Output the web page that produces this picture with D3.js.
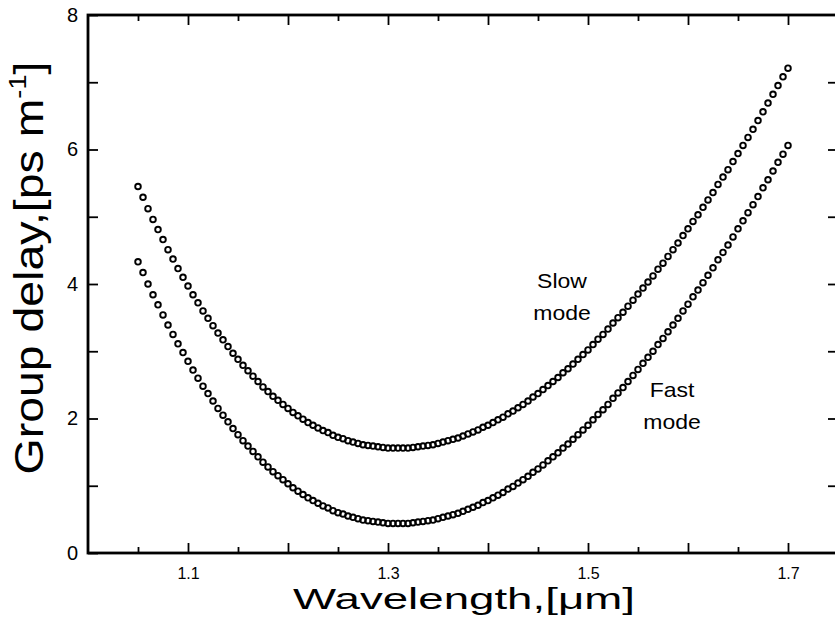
<!DOCTYPE html>
<html>
<head>
<meta charset="utf-8">
<script src="https://cdn.jsdelivr.net/npm/d3@7"></script>
<style>
  body { margin: 0; background: #fff; }
  svg { display: block; font-family: "Liberation Sans", Arial, sans-serif; }
</style>
</head>
<body>
<svg width="835" height="632"></svg>
<script>
// wavelength grid of the measured points, um
var wavelength = [
  1.050, 1.055, 1.060, 1.065, 1.070, 1.075, 1.080, 1.085, 1.090, 1.095,
  1.100, 1.105, 1.110, 1.115, 1.120, 1.125, 1.130, 1.135, 1.140, 1.145,
  1.150, 1.155, 1.160, 1.165, 1.170, 1.175, 1.180, 1.185, 1.190, 1.195,
  1.200, 1.205, 1.210, 1.215, 1.220, 1.225, 1.230, 1.235, 1.240, 1.245,
  1.250, 1.255, 1.260, 1.265, 1.270, 1.275, 1.280, 1.285, 1.290, 1.295,
  1.300, 1.305, 1.310, 1.315, 1.320, 1.325, 1.330, 1.335, 1.340, 1.345,
  1.350, 1.355, 1.360, 1.365, 1.370, 1.375, 1.380, 1.385, 1.390, 1.395,
  1.400, 1.405, 1.410, 1.415, 1.420, 1.425, 1.430, 1.435, 1.440, 1.445,
  1.450, 1.455, 1.460, 1.465, 1.470, 1.475, 1.480, 1.485, 1.490, 1.495,
  1.500, 1.505, 1.510, 1.515, 1.520, 1.525, 1.530, 1.535, 1.540, 1.545,
  1.550, 1.555, 1.560, 1.565, 1.570, 1.575, 1.580, 1.585, 1.590, 1.595,
  1.600, 1.605, 1.610, 1.615, 1.620, 1.625, 1.630, 1.635, 1.640, 1.645,
  1.650, 1.655, 1.660, 1.665, 1.670, 1.675, 1.680, 1.685, 1.690, 1.695,
  1.700
];

// group delay, ps/m
var slowMode = [
  5.45, 5.29, 5.12, 4.96, 4.81, 4.66, 4.51, 4.37, 4.23, 4.10,
  3.97, 3.84, 3.72, 3.60, 3.49, 3.38, 3.27, 3.17, 3.07, 2.97,
  2.88, 2.79, 2.71, 2.63, 2.55, 2.47, 2.40, 2.33, 2.27, 2.21,
  2.15, 2.09, 2.04, 1.99, 1.94, 1.90, 1.86, 1.82, 1.79, 1.75,
  1.72, 1.70, 1.67, 1.65, 1.63, 1.61, 1.60, 1.59, 1.58, 1.57,
  1.56, 1.56, 1.56, 1.56, 1.56, 1.57, 1.58, 1.59, 1.60, 1.61,
  1.63, 1.65, 1.67, 1.69, 1.71, 1.74, 1.77, 1.80, 1.83, 1.87,
  1.90, 1.94, 1.98, 2.02, 2.07, 2.11, 2.16, 2.21, 2.26, 2.32,
  2.37, 2.43, 2.49, 2.55, 2.61, 2.68, 2.74, 2.81, 2.88, 2.95,
  3.02, 3.10, 3.18, 3.25, 3.33, 3.42, 3.50, 3.58, 3.67, 3.76,
  3.85, 3.94, 4.03, 4.12, 4.22, 4.31, 4.41, 4.51, 4.61, 4.72,
  4.82, 4.93, 5.03, 5.14, 5.25, 5.36, 5.48, 5.59, 5.70, 5.82,
  5.94, 6.06, 6.18, 6.30, 6.43, 6.56, 6.69, 6.82, 6.95, 7.08,
  7.21
];

var fastMode = [
  4.33, 4.17, 4.00, 3.84, 3.69, 3.54, 3.39, 3.25, 3.11, 2.98,
  2.85, 2.72, 2.60, 2.48, 2.37, 2.26, 2.15, 2.05, 1.95, 1.85,
  1.76, 1.67, 1.59, 1.51, 1.43, 1.35, 1.28, 1.21, 1.15, 1.09,
  1.03, 0.97, 0.92, 0.87, 0.82, 0.78, 0.74, 0.70, 0.67, 0.63,
  0.60, 0.58, 0.55, 0.53, 0.51, 0.49, 0.48, 0.47, 0.46, 0.45,
  0.44, 0.44, 0.44, 0.44, 0.44, 0.45, 0.46, 0.47, 0.48, 0.49,
  0.51, 0.53, 0.55, 0.57, 0.59, 0.62, 0.65, 0.68, 0.71, 0.75,
  0.78, 0.82, 0.86, 0.90, 0.95, 0.99, 1.04, 1.09, 1.14, 1.20,
  1.25, 1.31, 1.37, 1.43, 1.49, 1.56, 1.62, 1.69, 1.76, 1.83,
  1.90, 1.98, 2.06, 2.13, 2.21, 2.30, 2.38, 2.46, 2.55, 2.64,
  2.73, 2.82, 2.91, 3.00, 3.10, 3.19, 3.29, 3.39, 3.49, 3.60,
  3.70, 3.81, 3.91, 4.02, 4.13, 4.24, 4.36, 4.47, 4.58, 4.70,
  4.82, 4.94, 5.06, 5.18, 5.30, 5.43, 5.55, 5.68, 5.81, 5.93,
  6.06
];

var xLabelTicks = [1.1, 1.3, 1.5, 1.7];
var xMajorTicks = [1.1, 1.2, 1.3, 1.4, 1.5, 1.6, 1.7];
var xMinorTicks = [1.05, 1.15, 1.25, 1.35, 1.45, 1.55, 1.65, 1.75];
var yLabelTicks = [0, 2, 4, 6, 8];
var yMinorTicks = [1, 3, 5, 7];

var svg = d3.select("svg"),
    margin = {top: 15, right: -3, bottom: 79, left: 88},
    width = +svg.attr("width") - margin.left - margin.right,
    height = +svg.attr("height") - margin.top - margin.bottom,
    g = svg.append("g").attr("transform", "translate(" + margin.left + "," + margin.top + ")");

var x = d3.scaleLinear().domain([1.0, 1.75]).range([0, width]);
var y = d3.scaleLinear().domain([0, 8]).range([height, 0]);

function fmt(d) { return xLabelTicks.indexOf(d) >= 0 ? d3.format(".1f")(d) : ""; }

// bottom
g.append("g").attr("class", "axis")
    .attr("transform", "translate(0," + height + ")")
    .call(d3.axisBottom(x).tickValues(xMajorTicks).tickSize(-10).tickPadding(15).tickFormat(fmt));
g.append("g").attr("class", "axis")
    .attr("transform", "translate(0," + height + ")")
    .call(d3.axisBottom(x).tickValues(xMinorTicks).tickSize(-6).tickFormat(""));
// top
g.append("g").attr("class", "axis")
    .call(d3.axisTop(x).tickValues(xMajorTicks).tickSize(-10).tickFormat(""));
g.append("g").attr("class", "axis")
    .call(d3.axisTop(x).tickValues(xMinorTicks).tickSize(-6).tickFormat(""));
// left
g.append("g").attr("class", "axis yl")
    .call(d3.axisLeft(y).tickValues(yLabelTicks).tickSize(-10).tickPadding(10).tickFormat(d3.format("d")));
g.append("g").attr("class", "axis")
    .call(d3.axisLeft(y).tickValues(yMinorTicks).tickSize(-10).tickFormat(""));
// right
g.append("g").attr("class", "axis")
    .attr("transform", "translate(" + width + ",0)")
    .call(d3.axisRight(y).tickValues(yLabelTicks.slice(1, 4).concat(yMinorTicks)).tickSize(-10).tickFormat(""));

g.selectAll(".axis .domain").remove();
g.selectAll(".axis line").attr("stroke", "#000").attr("stroke-width", 1.8);
g.selectAll(".axis text").attr("fill", "#000").style("font-size", "16px");
g.selectAll(".yl text").style("font-size", "20px");

// frame
g.append("rect")
    .attr("width", width).attr("height", height)
    .attr("fill", "none").attr("stroke", "#000").attr("stroke-width", 2.8);

// series
var series = [slowMode, fastMode];
g.append("g").selectAll("g")
    .data(series)
    .enter().append("g")
    .selectAll("circle")
    .data(function(s) { return s.map(function(v, i) { return [wavelength[i], v]; }); })
    .enter().append("circle")
    .attr("cx", function(d) { return x(d[0]); })
    .attr("cy", function(d) { return y(d[1]); })
    .attr("r", 2.8)
    .attr("fill", "none")
    .attr("stroke", "#000")
    .attr("stroke-width", 1.9);

// labels on the curves
function stretch(sel, target) {
    var w = sel.node().getBBox().width;
    sel.attr("transform", "scale(" + (target / w) + ",1)");
}

function curveLabel(cx, cy, lines) {
    var lg = svg.append("g").attr("transform", "translate(" + cx + "," + cy + ")");
    lines.forEach(function(t, i) {
        lg.append("text")
            .attr("y", i * 32)
            .attr("text-anchor", "middle")
            .style("font-size", "20px")
            .attr("transform", "scale(1.15,1)")
            .text(t);
    });
}
curveLabel(562, 288, ["Slow", "mode"]);
curveLabel(672, 397, ["Fast", "mode"]);

// axis titles
var xt = svg.append("g").attr("transform", "translate(464,609)")
    .append("text")
    .attr("text-anchor", "middle")
    .style("font-size", "30px")
    .text("Wavelength,[\u03bcm]");
stretch(xt, 342);

var yt = svg.append("g").attr("transform", "translate(43,268) rotate(-90)")
    .append("text")
    .attr("text-anchor", "middle")
    .style("font-size", "41px");
yt.append("tspan").text("Group delay,[ps m");
yt.append("tspan").attr("dy", -17).style("font-size", "24px").text("-1");
yt.append("tspan").attr("dy", 17).text("]");
stretch(yt, 413);
</script>
</body>
</html>
